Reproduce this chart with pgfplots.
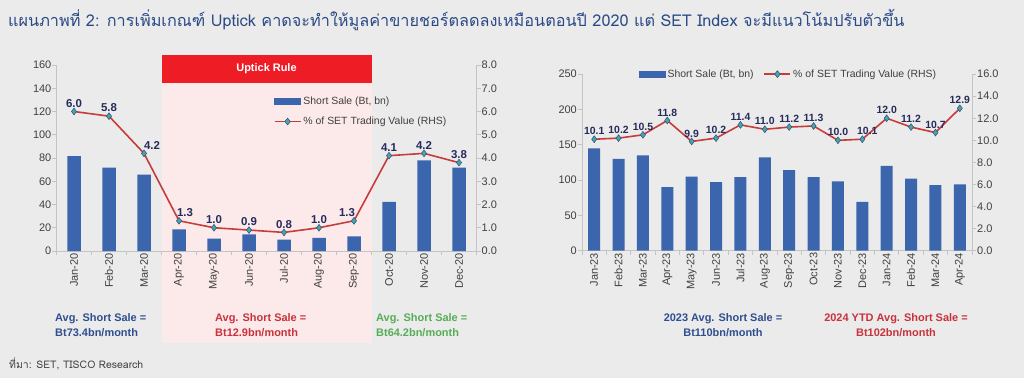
\documentclass[border=0pt]{standalone}
\usepackage{fontspec}
\setmainfont{Liberation Sans}
\newfontfamily\thaifont[Script=Thai]{Loma}
\usepackage{pgfplots}
\pgfplotsset{compat=1.18}
\usepackage{pgfplotstable}

\definecolor{bg}{HTML}{EBEBEB}
\definecolor{barblue}{HTML}{3B66AE}
\definecolor{linered}{HTML}{C73B3B}
\definecolor{mkfill}{HTML}{45A5B5}
\definecolor{mkdraw}{HTML}{2E4F6E}
\definecolor{navy}{HTML}{262B5A}
\definecolor{titleblue}{HTML}{2A4A86}
\definecolor{pinkbg}{HTML}{FCE9E9}
\definecolor{rulered}{HTML}{EE1C25}
\definecolor{axgrey}{HTML}{C4C4C4}
\definecolor{ticktext}{HTML}{404040}
\definecolor{avgblue}{HTML}{2E4E8F}
\definecolor{avgred}{HTML}{C8323C}
\definecolor{avggreen}{HTML}{55AD55}

\pgfplotstableread{
x y
0 81.7
1 71.7
2 65.7
3 18.7
4 10.6
5 14.2
6 9.8
7 11.2
8 12.6
9 42.2
10 78.0
11 71.7
}\Lbars
\pgfplotstableread{
x y dx
0 6.0 0
1 5.8 0
2 4.2 8
3 1.3 6
4 1.0 0
5 0.9 0
6 0.8 0
7 1.0 0
8 1.3 -7
9 4.1 0
10 4.2 0
11 3.8 0
}\Lline
\pgfplotstableread{
x y
0 145
1 130
2 135
3 90
4 105
5 97
6 104
7 132
8 114
9 104
10 98
11 69
12 120
13 102
14 93
15 94
}\Rbars
\pgfplotstableread{
x y dx
0 10.1 0
1 10.2 0
2 10.5 0
3 11.8 0
4 9.9 0
5 10.2 0
6 11.4 0
7 11.0 0
8 11.2 0
9 11.3 0
10 10.0 0
11 10.1 5
12 12.0 0
13 11.2 0
14 10.7 0
15 12.9 0
}\Rline

\pgfplotsset{
  every axis/.append style={
    scale only axis,
    anchor=south west,
    ymin=0,
    clip=false,
    /pgf/number format/assume math mode=true,
    axis line style={draw=axgrey, line width=0.8pt},
    tick style={draw=axgrey, line width=0.8pt},
    major tick length=4bp,
    tick align=outside,
    tick label style={font=\fontsize{11}{12}\selectfont, text=ticktext},
    yticklabel style={inner sep=1bp},
  },
  baraxis/.style={
    axis x line*=bottom, axis y line*=left,
    xticklabels={},
    extra x tick style={major tick length=0pt,
      xticklabel style={rotate=90, anchor=east, inner sep=0pt, xshift=-2bp}},
  },
  rhsaxis/.style={
    axis x line=none, axis y line*=right,
    yticklabel={\pgfmathprintnumber[fixed,fixed zerofill,precision=1]{\tick}},
    legend style={draw=none, fill=none, font=\fontsize{10.5}{12}\selectfont,
      text=ticktext, inner sep=0pt, cells={anchor=west}},
  },
  bararea/.style={legend image code/.code={\fill[barblue] (0bp,-3.2bp) rectangle (26bp,3.2bp);}},
  lineseries/.style={linered, line width=1.6pt, mark=diamond*, mark size=3.4bp,
    mark options={fill=mkfill, draw=mkdraw, line width=0.5pt},
    legend image code/.code={
      \draw[linered, line width=1.6pt] (0bp,0bp) -- (26bp,0bp);
      \draw[mkdraw, fill=mkfill, line width=0.5pt] (13bp,3.4bp) -- (15.8bp,0bp) -- (13bp,-3.4bp) -- (10.2bp,0bp) -- cycle;},
    point meta=y,
    visualization depends on={\thisrow{dx} \as \dx},
    nodes near coords={\pgfmathprintnumber[fixed,fixed zerofill,precision=1]{\pgfplotspointmeta}},
    nodes near coords style={text=navy, anchor=south, inner sep=1bp, yshift=3bp, xshift=\dx bp},
  },
}

\begin{document}
\begin{tikzpicture}
\useasboundingbox (0,0) rectangle (1024bp,-378bp);
\fill[bg] (0,0) rectangle (1024bp,-378bp);

% title
\node[anchor=west, text=titleblue, inner sep=0pt] at (8bp,-20bp)
  {\thaifont\fontsize{16.3}{20}\selectfont แผนภาพที่ 2: การเพิ่มเกณฑ์ Uptick คาดจะทำให้มูลค่าขายชอร์ตลดลงเหมือนตอนปี 2020 แต่ SET Index จะมีแนวโน้มปรับตัวขึ้น};

% uptick region
\fill[pinkbg] (161.5bp,-55bp) rectangle (371.5bp,-343bp);
\fill[rulered] (161.5bp,-55bp) rectangle (371.5bp,-83bp);
\node[text=white, font=\bfseries\fontsize{11}{12}\selectfont] at (266.5bp,-69bp) {Uptick Rule};

% ---------- left chart ----------
\begin{axis}[baraxis,
  at={(56.5bp,-251bp)}, width=420bp, height=186bp,
  xmin=-0.5, xmax=11.5, ymax=160,
  xtick={-0.5,0.5,...,11.5},
  extra x ticks={0,1,...,11},
  extra x tick labels={Jan-20,Feb-20,Mar-20,Apr-20,May-20,Jun-20,Jul-20,Aug-20,Sep-20,Oct-20,Nov-20,Dec-20},
  ytick={0,20,...,160},
]
\addplot[ybar, bar width=13.5bp, fill=barblue, draw=none] table[x=x,y=y]{\Lbars};
\end{axis}

\begin{axis}[rhsaxis,
  at={(56.5bp,-251bp)}, width=420bp, height=186bp,
  xmin=-0.5, xmax=11.5, ymax=8,
  ytick={0,1,...,8},
  legend style={at={(0.517,0.84)}, anchor=north west, row sep=7bp},
]
\addlegendimage{bararea}
\addlegendentry{Short Sale (Bt, bn)}
\addplot[lineseries, nodes near coords style={font=\bfseries\fontsize{11.5}{12}\selectfont}] table[x=x,y=y]{\Lline};
\addlegendentry{\% of SET Trading Value (RHS)}
\end{axis}

% ---------- right chart ----------
\begin{axis}[baraxis,
  at={(582bp,-250.7bp)}, width=390bp, height=176.6bp,
  xmin=-0.5, xmax=15.5, ymax=250,
  xtick={-0.5,0.5,...,15.5},
  extra x ticks={0,1,...,15},
  extra x tick labels={Jan-23,Feb-23,Mar-23,Apr-23,May-23,Jun-23,Jul-23,Aug-23,Sep-23,Oct-23,Nov-23,Dec-23,Jan-24,Feb-24,Mar-24,Apr-24},
  ytick={0,50,...,250},
]
\addplot[ybar, bar width=12bp, fill=barblue, draw=none] table[x=x,y=y]{\Rbars};
\end{axis}

\begin{axis}[rhsaxis,
  at={(582bp,-250.7bp)}, width=390bp, height=176.6bp,
  xmin=-0.5, xmax=15.5, ymax=16,
  ytick={0,2,...,16},
  legend columns=2,
  legend style={at={(0.53,1.0)}, anchor=center,
    /tikz/every even column/.append style={column sep=8bp}},
]
\addlegendimage{bararea}
\addlegendentry{Short Sale (Bt, bn)}
\addplot[lineseries, nodes near coords style={font=\bfseries\fontsize{10.5}{12}\selectfont}] table[x=x,y=y]{\Rline};
\addlegendentry{\% of SET Trading Value (RHS)}
\end{axis}

% annotations
\begin{scope}[every node/.style={font=\bfseries\fontsize{11}{15}\selectfont, inner sep=0pt}]
\node[anchor=west, text=avgblue, align=left] at (55bp,-325.5bp) {Avg. Short Sale =\\Bt73.4bn/month};
\node[anchor=west, text=avgred, align=left] at (215bp,-325.5bp) {Avg. Short Sale =\\Bt12.9bn/month};
\node[anchor=west, text=avggreen, align=left] at (376bp,-325.5bp) {Avg. Short Sale =\\Bt64.2bn/month};
\node[text=avgblue, align=center] at (723bp,-325.5bp) {2023 Avg. Short Sale =\\Bt110bn/month};
\node[text=avgred, align=center] at (896bp,-325.5bp) {2024 YTD Avg. Short Sale =\\Bt102bn/month};
\end{scope}

% source
\node[anchor=west, text=ticktext, inner sep=0pt] at (9bp,-364bp) {\thaifont\fontsize{10.5}{12}\selectfont ที่มา: SET, TISCO Research};
\end{tikzpicture}
\end{document}
